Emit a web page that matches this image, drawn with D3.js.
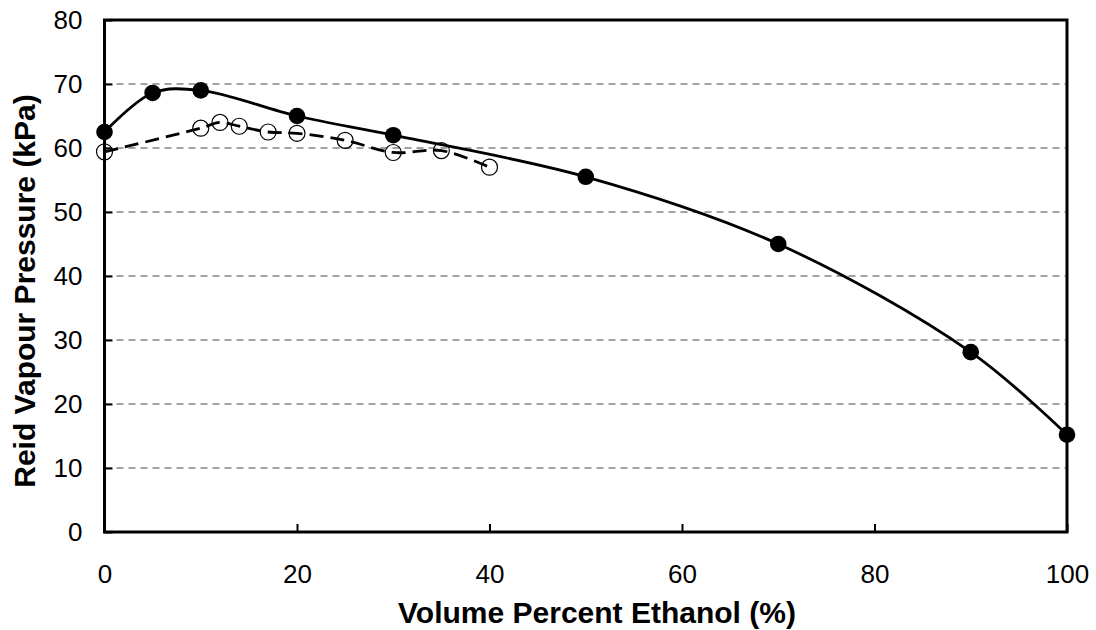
<!DOCTYPE html>
<html>
<head>
<meta charset="utf-8">
<script src="https://cdn.jsdelivr.net/npm/d3@7"></script>
<style>
  html, body { margin: 0; padding: 0; background: #fff; }
  svg { display: block; font-family: "Liberation Sans", Arial, sans-serif; }
</style>
</head>
<body>
<svg id="chart" width="1096" height="630"></svg>
<script>
// Ethanol blend vapour pressure data
const blendEthanol = [0, 5, 10, 20, 30, 50, 70, 90, 100];
const blendRvp     = [62.5, 68.6, 69.0, 65.0, 62.0, 55.5, 45.0, 28.1, 15.2];

const fuelEthanol = [0, 10, 12, 14, 17, 20, 25, 30, 35, 40];
const fuelRvp     = [59.4, 63.1, 64.0, 63.4, 62.5, 62.3, 61.2, 59.3, 59.6, 57.0];

const xTicks = [0, 20, 40, 60, 80, 100];
const yTicks = [0, 10, 20, 30, 40, 50, 60, 70, 80];

const xTitle = "Volume Percent Ethanol (%)";
const yTitle = "Reid Vapour Pressure (kPa)";

const svg = d3.select("#chart");
const plotLeft = 104.5, plotRight = 1067, plotTop = 20, plotBottom = 532;
const tickFont = 26, titleFont = 30;

const x = d3.scaleLinear().domain([0, 100]).range([plotLeft, plotRight]);
const y = d3.scaleLinear().domain([0, 80]).range([plotBottom, plotTop]);

// horizontal gridlines
svg.append("g").selectAll("line")
  .data(yTicks.filter(v => v > 0 && v < 80))
  .join("line")
  .attr("x1", plotLeft).attr("x2", plotRight)
  .attr("y1", d => y(d)).attr("y2", d => y(d))
  .attr("stroke", "#444").attr("stroke-width", 1)
  .attr("stroke-dasharray", "7,5");

// axes with inward ticks
const xAxis = svg.append("g")
  .attr("transform", `translate(0,${plotBottom})`)
  .call(d3.axisBottom(x).tickValues(xTicks).tickSize(-8).tickFormat(d3.format("d")));
const yAxis = svg.append("g")
  .attr("transform", `translate(${plotLeft},0)`)
  .call(d3.axisLeft(y).tickValues(yTicks).tickSize(-8).tickPadding(22).tickFormat(d3.format("d")));

[xAxis, yAxis].forEach(g => {
  g.select(".domain").remove();
  g.selectAll(".tick line").attr("stroke", "#000").attr("stroke-width", 2);
  g.selectAll(".tick text").attr("font-size", tickFont).attr("fill", "#000")
    .attr("font-family", "'Liberation Sans', Arial, sans-serif");
});
xAxis.selectAll(".tick text").attr("y", 51).attr("dy", null);

// plot frame
svg.append("rect")
  .attr("x", plotLeft).attr("y", plotTop)
  .attr("width", plotRight - plotLeft).attr("height", plotBottom - plotTop)
  .attr("fill", "none").attr("stroke", "#000").attr("stroke-width", 3);

const blend = blendEthanol.map((e, i) => [e, blendRvp[i]]);
const fuel = fuelEthanol.map((e, i) => [e, fuelRvp[i]]);

const line = d3.line()
  .x(d => x(d[0])).y(d => y(d[1]))
  .curve(d3.curveCatmullRom.alpha(0.5));

svg.append("path").datum(fuel)
  .attr("d", line).attr("fill", "none")
  .attr("stroke", "#000").attr("stroke-width", 2.8)
  .attr("stroke-dasharray", "14,7");

svg.append("g").selectAll("circle")
  .data(fuel).join("circle")
  .attr("cx", d => x(d[0])).attr("cy", d => y(d[1])).attr("r", 8)
  .attr("fill", "none").attr("stroke", "#000").attr("stroke-width", 1.2);

svg.append("path").datum(blend)
  .attr("d", line).attr("fill", "none")
  .attr("stroke", "#000").attr("stroke-width", 2.8);

svg.append("g").selectAll("circle")
  .data(blend).join("circle")
  .attr("cx", d => x(d[0])).attr("cy", d => y(d[1])).attr("r", 8.3)
  .attr("fill", "#000");

// axis titles
svg.append("text")
  .attr("x", 597).attr("y", 623)
  .attr("text-anchor", "middle").attr("font-size", titleFont).attr("font-weight", "bold")
  .text(xTitle);

svg.append("text")
  .attr("transform", `translate(35,291) rotate(-90)`)
  .attr("text-anchor", "middle").attr("font-size", titleFont).attr("font-weight", "bold")
  .text(yTitle);
</script>
</body>
</html>
